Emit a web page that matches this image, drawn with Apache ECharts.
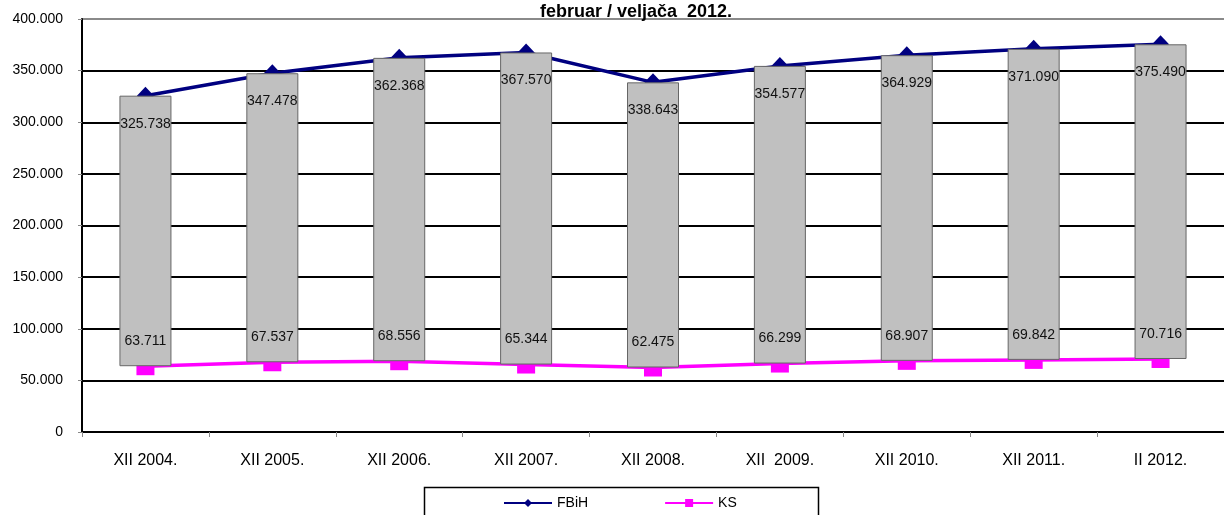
<!DOCTYPE html>
<html>
<head>
<meta charset="utf-8">
<script src="https://cdn.jsdelivr.net/npm/echarts@6/dist/echarts.min.js"></script>
<style>
html,body{margin:0;padding:0;background:#fff;}
#c{width:1224px;height:515px;}
</style>
</head>
<body>
<div id="c"></div>
<script>
var categories = ['XII 2004.', 'XII 2005.', 'XII 2006.', 'XII 2007.', 'XII 2008.', 'XII  2009.', 'XII 2010.', 'XII 2011.', 'II 2012.'];
var fbih = [325.738, 347.478, 362.368, 367.570, 338.643, 354.577, 364.929, 371.090, 375.490];
var ks = [63.711, 67.537, 68.556, 65.344, 62.475, 66.299, 68.907, 69.842, 70.716];
var yTicks = [0, 50, 100, 150, 200, 250, 300, 350, 400];
var titleText = 'februar / veljača  2012.';

var FONT = '"Liberation Sans", Arial, sans-serif';
var span = fbih.map(function (v, i) { return Math.round((v - ks[i]) * 1000) / 1000; });
function fmt(v) { return v === 0 ? '0' : v.toFixed(3); }

var chart = echarts.init(document.getElementById('c'));
chart.setOption({
  animation: false,
  backgroundColor: '#fff',
  textStyle: { fontFamily: FONT },
  title: {
    text: titleText,
    left: 631, textAlign: 'center', top: -3,
    textStyle: { fontFamily: FONT, fontSize: 18, fontWeight: 'bold', color: '#000', lineHeight: 20 }
  },
  grid: { left: 82, top: 19, right: -5.5, bottom: 83, containLabel: false },
  legend: {
    data: ['FBiH', 'KS'],
    left: 498, top: 491,
    itemWidth: 48, itemHeight: 10, itemGap: 76,
    textStyle: { fontFamily: FONT, fontSize: 14, color: '#000' },
    selectedMode: false
  },
  graphic: [{
    type: 'rect', left: 422, top: 485, silent: true,
    shape: { width: 394, height: 40 },
    style: { fill: 'none', stroke: '#000', lineWidth: 1.5 }
  }],
  xAxis: {
    type: 'category', data: categories,
    axisLine: { lineStyle: { color: '#000', width: 2 } },
    axisTick: { show: true, length: 5, lineStyle: { color: '#888' } },
    axisLabel: { fontFamily: FONT, fontSize: 16, color: '#000', margin: 21 }
  },
  yAxis: {
    type: 'value', min: 0, max: 400, interval: 50,
    axisLine: { show: true, lineStyle: { color: '#000', width: 2 } },
    axisTick: { show: true, length: 4, lineStyle: { color: '#888' } },
    axisLabel: { fontFamily: FONT, fontSize: 14, color: '#000', margin: 19,
      formatter: function (v) { return yTicks.indexOf(v) >= 0 ? fmt(v) : ''; } },
    splitLine: { show: true, lineStyle: { color: ['#000', '#000', '#000', '#000', '#000', '#000', '#000', '#000', '#8a8a8a'], width: 2 } }
  },
  series: [
    {
      name: 'FBiH', type: 'line', data: fbih, z: 1,
      symbol: 'diamond', symbolSize: [17, 18],
      lineStyle: { color: '#000080', width: 3.5 },
      itemStyle: { color: '#000080' }
    },
    {
      name: 'KS', type: 'line', data: ks, z: 1,
      symbol: 'rect', symbolSize: [18, 18],
      lineStyle: { color: '#FF00FF', width: 3.5 },
      itemStyle: { color: '#FF00FF' }
    },
    {
      name: 'base', type: 'bar', stack: 'r', data: ks, z: 3, silent: true,
      barWidth: 52,
      itemStyle: { color: 'rgba(0,0,0,0)' },
      label: { show: true, position: 'top', distance: 18, fontFamily: FONT, fontSize: 14, color: '#111',
        formatter: function (p) { return ks[p.dataIndex].toFixed(3); } }
    },
    {
      name: 'range', type: 'bar', stack: 'r', data: span, z: 2, silent: true,
      barWidth: 52,
      itemStyle: { color: '#C0C0C0', borderColor: '#666', borderWidth: 1 },
      label: { show: true, position: 'insideTop', distance: 21, fontFamily: FONT, fontSize: 14, color: '#111',
        formatter: function (p) { return fbih[p.dataIndex].toFixed(3); } }
    }
  ]
});
</script>
</body>
</html>
